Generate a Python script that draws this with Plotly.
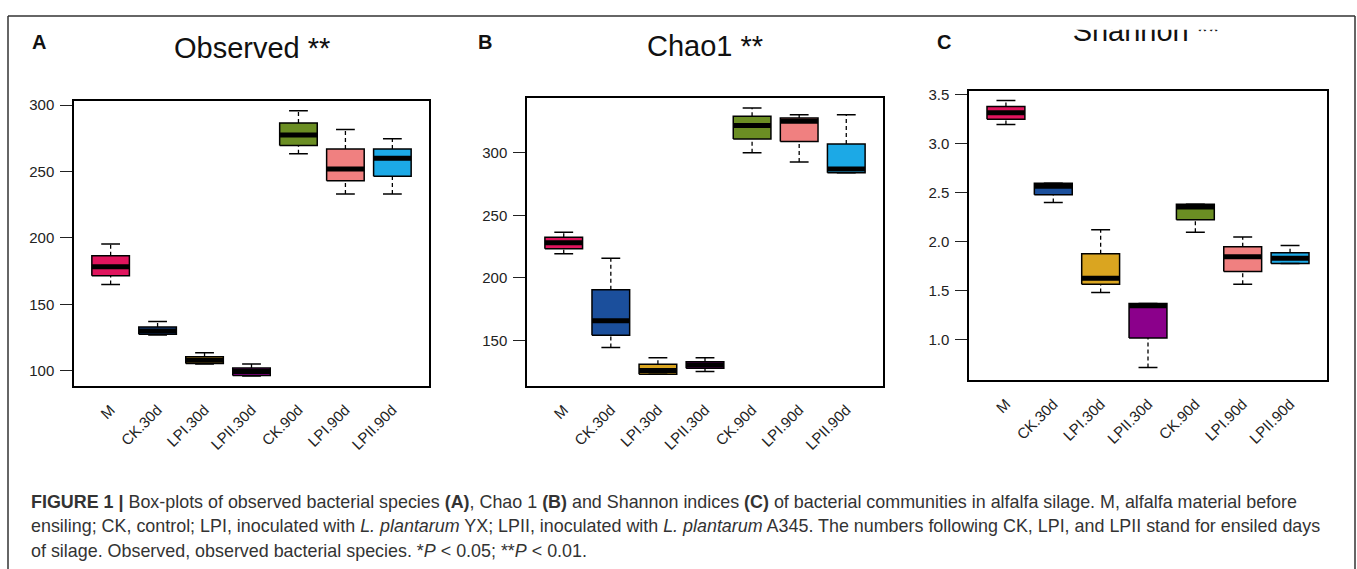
import plotly.graph_objects as go

W, H = 1357, 569

categories = ["M", "CK.30d", "LPI.30d", "LPII.30d", "CK.90d", "LPI.90d", "LPII.90d"]
box_colors = ["#E0155E", "#1B4F9C", "#DAA520", "#8B008B", "#6B8E23", "#F08080", "#1CA9E6"]

# Observed (panel A)
obs_min = [165.0, 127.0, 105.0, 96.0, 263.4, 233.0, 233.0]
obs_q1 = [171.6, 127.5, 105.5, 96.5, 269.6, 243.0, 246.5]
obs_med = [178.4, 130.0, 108.0, 99.5, 277.6, 252.0, 260.0]
obs_q3 = [186.6, 133.0, 110.6, 102.0, 286.6, 267.0, 267.0]
obs_max = [195.5, 137.0, 113.6, 105.0, 295.7, 281.6, 274.6]

# Chao1 (panel B)
chao_min = [219.3, 144.4, 123.0, 125.2, 300.0, 292.6, 284.0]
chao_q1 = [223.2, 154.2, 123.0, 127.8, 311.0, 309.0, 284.0]
chao_med = [228.0, 165.8, 126.0, 130.5, 321.6, 325.0, 287.0]
chao_q3 = [232.4, 190.6, 131.0, 133.0, 329.0, 327.7, 307.0]
chao_max = [236.5, 215.6, 136.2, 136.2, 335.6, 330.3, 330.3]

# Shannon (panel C)
sha_min = [3.196, 2.400, 1.480, 0.714, 2.096, 1.565, 1.775]
sha_q1 = [3.250, 2.477, 1.565, 1.015, 2.224, 1.694, 1.775]
sha_med = [3.315, 2.565, 1.625, 1.345, 2.352, 1.845, 1.830]
sha_q3 = [3.380, 2.595, 1.876, 1.369, 2.382, 1.947, 1.886]
sha_max = [3.440, 2.595, 2.122, 1.369, 2.382, 2.048, 1.960]

titles = ["Observed **", "Chao1 **", "Shannon **"]
panel_letters = ["A", "B", "C"]

FONT = "Liberation Sans, Arial, Helvetica, sans-serif"
BOX_HALF = 0.4
STAPLE_HALF = 0.2

fig = go.Figure()


def add_panel(ax, mins, q1s, meds, q3s, maxs):
    xa, ya = "x" + ax, "y" + ax
    wx, wy, sx, sy, mx, my = [], [], [], [], [], []
    for i, cat in enumerate(categories):
        fig.add_trace(go.Scatter(
            x=[i - BOX_HALF, i + BOX_HALF, i + BOX_HALF, i - BOX_HALF, i - BOX_HALF],
            y=[q1s[i], q1s[i], q3s[i], q3s[i], q1s[i]],
            mode="lines", fill="toself", fillcolor=box_colors[i],
            line=dict(color="black", width=1.5), xaxis=xa, yaxis=ya,
            hoverinfo="skip", showlegend=False))
        wx += [i, i, None, i, i, None]
        wy += [q3s[i], maxs[i], None, mins[i], q1s[i], None]
        sx += [i - STAPLE_HALF, i + STAPLE_HALF, None, i - STAPLE_HALF, i + STAPLE_HALF, None]
        sy += [maxs[i], maxs[i], None, mins[i], mins[i], None]
        mx += [i - BOX_HALF, i + BOX_HALF, None]
        my += [meds[i], meds[i], None]
    fig.add_trace(go.Scatter(x=wx, y=wy, mode="lines",
                             line=dict(color="black", width=1.3, dash="4px,3px"),
                             xaxis=xa, yaxis=ya, hoverinfo="skip", showlegend=False))
    fig.add_trace(go.Scatter(x=sx, y=sy, mode="lines",
                             line=dict(color="black", width=1.5),
                             xaxis=xa, yaxis=ya, hoverinfo="skip", showlegend=False))
    fig.add_trace(go.Scatter(x=mx, y=my, mode="lines",
                             line=dict(color="black", width=5),
                             xaxis=xa, yaxis=ya, hoverinfo="skip", showlegend=False))


add_panel("", obs_min, obs_q1, obs_med, obs_q3, obs_max)
add_panel("2", chao_min, chao_q1, chao_med, chao_q3, chao_max)
add_panel("3", sha_min, sha_q1, sha_med, sha_q3, sha_max)


def fx(px):
    return px / W


def fy(py):
    return 1 - py / H


x_common = dict(tickvals=list(range(len(categories))), ticktext=categories,
                tickangle=-45, ticks="", showline=True, mirror=True,
                linecolor="black", linewidth=1.5, showgrid=False, zeroline=False,
                range=[-0.78, 6.78], tickfont=dict(family=FONT, size=15, color="#222"),
                ticklabelstandoff=8, fixedrange=True)
y_common = dict(ticks="outside", ticklen=12, tickwidth=1.3, tickcolor="#222",
                showline=True, mirror=True, linecolor="black", linewidth=1.5,
                showgrid=False, zeroline=False,
                tickfont=dict(family=FONT, size=15, color="#222"),
                ticklabelstandoff=3, fixedrange=True)

panels = [
    dict(xd=[74, 429], yd=[97, 384], yr=[88.8, 303.0], tv=[100, 150, 200, 250, 300], fmt="d"),
    dict(xd=[527, 883], yd=[94, 384], yr=[114.0, 343.5], tv=[150, 200, 250, 300], fmt="d"),
    dict(xd=[969, 1327], yd=[87, 378], yr=[0.59, 3.535], tv=[1.0, 1.5, 2.0, 2.5, 3.0, 3.5], fmt=".1f"),
]

layout = dict(width=W, height=H, margin=dict(l=0, r=0, t=0, b=0),
              paper_bgcolor="white", plot_bgcolor="white", showlegend=False,
              hovermode=False)
for k, p in enumerate(panels):
    sfx = "" if k == 0 else str(k + 1)
    layout["xaxis" + sfx] = dict(x_common, domain=[fx(p["xd"][0]), fx(p["xd"][1])],
                                 anchor="y" + sfx)
    layout["yaxis" + sfx] = dict(y_common, domain=[fy(p["yd"][1]), fy(p["yd"][0])],
                                 range=p["yr"], tickvals=p["tv"], tickformat=p["fmt"],
                                 anchor="x" + sfx)

# clipped title axis for "Shannon **" (top of the text cut off as in the source)
layout["xaxis4"] = dict(domain=[fx(1000), fx(1300)], range=[0, 1], visible=False,
                        anchor="y4", fixedrange=True)
layout["yaxis4"] = dict(domain=[fy(70), fy(25)], range=[0, 1], visible=False,
                        anchor="x4", fixedrange=True)
fig.add_trace(go.Scatter(x=[(1146 - 1000) / 300], y=[(70 - 29) / 45], mode="text",
                         text=[titles[2]], textposition="middle center",
                         textfont=dict(family=FONT, size=29, color="#111"),
                         cliponaxis=True, xaxis="x4", yaxis="y4",
                         hoverinfo="skip", showlegend=False))

fig.update_layout(**layout)

annotations = []
for t, (cx, cy) in zip(titles[:2], [(252, 43), (705, 41)]):
    annotations.append(dict(text=t, x=fx(cx), y=fy(cy), xref="paper", yref="paper",
                            xanchor="center", yanchor="middle", showarrow=False,
                            font=dict(family=FONT, size=29, color="#111")))
for L, (cx, cy) in zip(panel_letters, [(38.5, 37.5), (485, 37.5), (944, 37.5)]):
    annotations.append(dict(text="<b>" + L + "</b>", x=fx(cx), y=fy(cy), xref="paper",
                            yref="paper", xanchor="center", yanchor="middle",
                            showarrow=False, font=dict(family=FONT, size=20, color="#111")))

caption_lines = [
    "<b>FIGURE 1 |</b> Box-plots of observed bacterial species <b>(A)</b>, Chao 1 <b>(B)</b> and Shannon indices <b>(C)</b> of bacterial communities in alfalfa silage. M, alfalfa material before",
    "ensiling; CK, control; LPI, inoculated with <i>L. plantarum</i> YX; LPII, inoculated with <i>L. plantarum</i> A345. The numbers following CK, LPI, and LPII stand for ensiled days",
    "of silage. Observed, observed bacterial species. *<i>P</i> &lt; 0.05; **<i>P</i> &lt; 0.01.",
]
for line, cy in zip(caption_lines, [501, 526, 550.5]):
    annotations.append(dict(text=line, x=fx(29), y=fy(cy), xref="paper", yref="paper",
                            xanchor="left", yanchor="middle", showarrow=False,
                            font=dict(family=FONT, size=17.9, color="#333")))
fig.update_layout(annotations=annotations)

frame = dict(color="#333", width=1.5)
fig.update_layout(shapes=[
    dict(type="line", xref="paper", yref="paper", x0=fx(8), x1=fx(1355), y0=fy(11), y1=fy(11), line=frame),
    dict(type="line", xref="paper", yref="paper", x0=fx(8), x1=fx(8), y0=fy(11), y1=0, line=frame),
    dict(type="line", xref="paper", yref="paper", x0=fx(1355), x1=fx(1355), y0=fy(11), y1=0, line=frame),
])

fig.write_html("out.html")
